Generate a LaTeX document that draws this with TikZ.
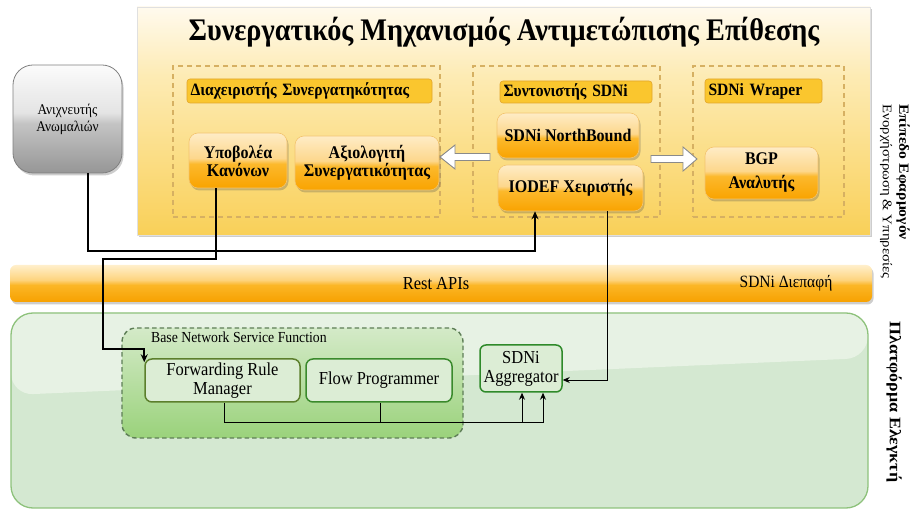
\documentclass[tikz,border=0pt]{standalone}
\usepackage{fontspec}
\setmainfont{Liberation Serif}[FakeStretch=0.9]
\newfontfamily\sidefont{Liberation Serif}[FakeStretch=1.12]
\usetikzlibrary{arrows.meta,shadows,calc}

% palette
\definecolor{grpDash}{HTML}{D6B062}
\definecolor{lblFill}{HTML}{FAC62E}
\definecolor{lblDraw}{HTML}{E2A52A}
\definecolor{oDraw}{HTML}{F3C46E}
\definecolor{gDraw}{HTML}{808080}
\definecolor{ctlLight}{HTML}{E7F2E4}
\definecolor{ctlFill}{HTML}{D4E8D1}
\definecolor{ctlDraw}{HTML}{8EC27C}
\definecolor{bnsTop}{HTML}{D4EAC8}
\definecolor{bnsBot}{HTML}{9AD27B}
\definecolor{bnsDraw}{HTML}{5E7E57}
\definecolor{boxFill}{HTML}{DCEDD5}
\definecolor{frmDraw}{HTML}{5C7F2C}
\definecolor{fpDraw}{HTML}{3A8A2C}
\definecolor{aggDraw}{HTML}{2F8A2A}
\definecolor{hollowDraw}{HTML}{8A8A8A}

% glossy vertical shadings (0bp = bottom, 100bp = top)
\pgfdeclareverticalshading{glossOrange}{100bp}{%
  color(0bp)=(rgb,255:red,249;green,163;blue,0);
  color(25bp)=(rgb,255:red,249;green,163;blue,0);
  color(47bp)=(rgb,255:red,252;green,185;blue,44);
  color(52bp)=(rgb,255:red,253;green,215;blue,140);
  color(75bp)=(rgb,255:red,254;green,236;blue,198);
  color(100bp)=(rgb,255:red,254;green,236;blue,198)}
\pgfdeclareverticalshading{glossGray}{100bp}{%
  color(0bp)=(rgb,255:red,150;green,150;blue,150);
  color(25bp)=(rgb,255:red,150;green,150;blue,150);
  color(48bp)=(rgb,255:red,196;green,196;blue,196);
  color(53bp)=(rgb,255:red,228;green,228;blue,228);
  color(75bp)=(rgb,255:red,251;green,251;blue,251);
  color(100bp)=(rgb,255:red,251;green,251;blue,251)}
\pgfdeclareverticalshading{glossRest}{100bp}{%
  color(0bp)=(rgb,255:red,247;green,161;blue,0);
  color(25bp)=(rgb,255:red,247;green,161;blue,0);
  color(48bp)=(rgb,255:red,251;green,182;blue,38);
  color(55bp)=(rgb,255:red,253;green,212;blue,126);
  color(75bp)=(rgb,255:red,255;green,239;blue,203);
  color(100bp)=(rgb,255:red,255;green,239;blue,203)}
\pgfdeclareverticalshading{appPanel}{100bp}{%
  color(0bp)=(rgb,255:red,249;green,208;blue,88);
  color(25bp)=(rgb,255:red,249;green,208;blue,88);
  color(60bp)=(rgb,255:red,253;green,235;blue,180);
  color(75bp)=(rgb,255:red,255;green,250;blue,238);
  color(100bp)=(rgb,255:red,255;green,250;blue,238)}

\newcommand\fsz[2]{\fontsize{#1}{#2}\selectfont}

\tikzset{
  softshadow/.style={drop shadow={shadow xshift=1.5pt,shadow yshift=-2.5pt,opacity=0.28,fill=black!70}},
  panelbox/.style={draw=black!12, line width=0.4pt, shading=appPanel, softshadow, inner sep=0pt},
  grpbox/.style={draw=grpDash, dash pattern=on 5pt off 4pt, line width=1.2pt, inner sep=0pt},
  lblbox/.style={draw=lblDraw, fill=lblFill, rounded corners=3pt, line width=0.6pt,
    font=\bfseries\fsz{17.3}{18}, align=left, inner xsep=3.5pt, inner ysep=0pt},
  onode/.style={draw=oDraw, line width=0.6pt, rounded corners=9pt, shading=glossOrange,
    font=\bfseries\fsz{17.8}{18}, align=center, inner sep=1pt, softshadow},
  anombox/.style={draw=gDraw, line width=0.8pt, rounded corners=20pt, shading=glossGray,
    font=\fsz{14.8}{17}, align=center, softshadow},
  restbar/.style={draw=none, rounded corners=6pt, shading=glossRest, softshadow},
  ctlpanel/.style={draw=ctlDraw, line width=1.3pt, fill=ctlFill, rounded corners=22pt,
    path picture={\fill[ctlLight] (path picture bounding box.north west)
      -- (path picture bounding box.north east) -- ++(0,45)
      -- ($(path picture bounding box.north west)+(0,82)$) -- cycle;}},
  bnsbox/.style={draw=bnsDraw, dash pattern=on 4.5pt off 3pt, line width=1.4pt,
    rounded corners=14pt, top color=bnsTop, bottom color=bnsBot},
  gbox/.style={fill=boxFill, line width=1.5pt, rounded corners=7pt, align=center,
    font=\fsz{18.3}{18.5}, inner sep=1pt},
  bigwire/.style={line width=2.2pt, -{Stealth[length=8pt,width=7pt]}},
  thinwire/.style={line width=0.9pt},
  thinarrow/.style={line width=0.9pt, -{Stealth[length=7pt,width=6pt]}},
  hollow/.style={draw=hollowDraw, fill=white, line width=0.9pt, line join=miter},
}

\begin{document}
\begin{tikzpicture}[x=1pt,y=-1pt]
\useasboundingbox (0,0) rectangle (911,510);

% ---------- application layer ----------
\node[panelbox, minimum width=733pt, minimum height=228pt] (app) at (503.5,121) {};
\node[font=\bfseries\fsz{31.4}{32}] (title) at (504,32)
  {Συνεργατικός Μηχανισμός Αντιμετώπισης Επίθεσης};

\node[grpbox, minimum width=267pt, minimum height=151pt] (g1) at (306.5,141.5) {};
\node[lblbox, text width=238pt, minimum height=24pt] (l1) at (309.5,91)
  {Διαχειριστής Συνεργατηκότητας};
\node[onode, minimum width=98pt, minimum height=55pt] (ypob) at (238,160.5)
  {Υποβολέα\\Κανόνων};
\node[onode, minimum width=144pt, minimum height=54pt] (axiol) at (367,163)
  {Αξιολογιτή\\Συνεργατικότητας};

\node[grpbox, minimum width=187pt, minimum height=151pt] (g2) at (566.5,141.5) {};
\node[lblbox, text width=145pt, minimum height=22pt] (l2) at (576,92)
  {Συντονιστής SDNi};
\node[onode, minimum width=142pt, minimum height=45pt] (nb) at (568,135.5)
  {SDNi NorthBound};
\node[onode, minimum width=145pt, minimum height=46pt] (iodef) at (570.5,188)
  {IODEF Χειριστής};

\node[grpbox, minimum width=151pt, minimum height=151pt] (g3) at (768.5,141.5) {};
\node[lblbox, text width=110pt, minimum height=24pt] (l3) at (763.5,91)
  {SDNi Wraper};
\node[onode, minimum width=113pt, minimum height=52pt, font=\bfseries\fsz{17.8}{24}]
  (bgp) at (761.5,173) {BGP\\Αναλυτής};

% hollow arrows between the groups
\coordinate (hlTail) at (490,157);
\draw[hollow] (hlTail) ++(0,-3.5) -- ++(-35,0) -- ++(0,-8.5) -- ++(-15,12)
  -- ++(15,12) -- ++(0,-8.5) -- ++(35,0) -- cycle;
\coordinate (hrTail) at (651,159);
\draw[hollow] (hrTail) ++(0,-3.5) -- ++(32,0) -- ++(0,-8.5) -- ++(14,12)
  -- ++(-14,12) -- ++(0,-8.5) -- ++(-32,0) -- cycle;

% ---------- anomaly detector ----------
\node[anombox, minimum width=109pt, minimum height=108pt] (anom) at (67.5,119)
  {Ανιχνευτής\\Ανωμαλιών};

% ---------- SDNi interface bar ----------
\node[restbar, minimum width=862pt, minimum height=37pt] (rest) at (441,283.5) {};
\node[font=\fsz{18.3}{19}] (restlbl) at (436,284) {Rest APIs};
\node[font=\fsz{17.2}{18}] (sdnilbl) at (786,283) {SDNi Διεπαφή};

% ---------- controller platform ----------
\node[ctlpanel, minimum width=857pt, minimum height=195pt] (ctl) at (439.5,410.5) {};
\node[bnsbox, minimum width=341pt, minimum height=110pt] (bns) at (292.5,383) {};
\node[font=\fsz{15.3}{16}, anchor=west, inner sep=0pt] (bnslbl) at (151,337.5)
  {Base Network Service Function};
\node[gbox, draw=frmDraw, minimum width=155pt, minimum height=43pt] (frm) at (222.5,380.5)
  {Forwarding Rule\\Manager};
\node[gbox, draw=fpDraw, minimum width=146pt, minimum height=43pt] (fp) at (379,380.5)
  {Flow Programmer};
\node[gbox, draw=aggDraw, minimum width=82pt, minimum height=47pt, rounded corners=6pt,
  font=\fsz{18.3}{19}] (agg) at (521,368.5) {SDNi\\Aggregator};

% ---------- side captions ----------
\node[rotate=-90, anchor=west, font=\sidefont\bfseries\fsz{14}{16}] (sideA1) at (903,101)
  {Επίπεδο Εφαρμογόν};
\node[rotate=-90, anchor=west, font=\sidefont\fsz{13.2}{15}] (sideA2) at (886,101)
  {Ενορχήστρωση \& Υπηρεσίες};
\node[rotate=-90, font=\sidefont\bfseries\fsz{16}{17}] (sideB) at (894,402)
  {Πλατφόρμα Ελεγκτή};

% ---------- connectors ----------
\draw[bigwire] ([xshift=20.5pt]anom.south) -- ++(0,78) -| ([xshift=-35.5pt]iodef.south);
\draw[bigwire] ([xshift=-22pt]ypob.south) -- ++(0,71) -- ++(-113,0) -- ++(0,90)
  -| ($(frm.north west)+(0,4)$);
\draw[thinarrow] ([xshift=36.5pt]iodef.south) |- ([yshift=-11.5pt]agg.east);

\coordinate (busL) at ($(frm.south)+(1.5,20)$);
\coordinate (busR) at ($(agg.south)+(22,30)$);
\draw[thinwire] ([xshift=1.5pt]frm.south) -- (busL) -- (busR);
\draw[thinwire] ([xshift=1pt]fp.south) -- ([xshift=1pt]fp.south |- busL);
\draw[thinarrow] (busR) -- ([xshift=22pt]agg.south);
\draw[thinarrow] ($(agg.south)+(1,30)$) -- ([xshift=1pt]agg.south);
\end{tikzpicture}
\end{document}
